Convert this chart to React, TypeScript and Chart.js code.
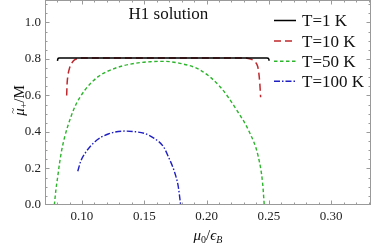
import React, { useEffect, useRef } from "react";
import { Chart, registerables } from "chart.js";

Chart.register(...registerables);

// ---- data ----
const xMajorTicks = [0.1, 0.15, 0.2, 0.25, 0.3];
const yMajorTicks = [0.0, 0.2, 0.4, 0.6, 0.8, 1.0];
const xRange = [0.0703, 0.332];
const yRange = [0, 1.123];

const seriesLabels = ["T=1 K", "T=10 K", "T=50 K", "T=100 K"];
const seriesColors = ["#000000", "#c0282d", "#2cb52c", "#1f1fc4"];
const seriesDash = [[], [7, 4], [3.5, 2.5], [6, 2, 1.5, 2]];

const t1X = [0.0803, 0.0806, 0.081, 0.0818, 0.1, 0.13, 0.16, 0.19, 0.22, 0.2485, 0.2494, 0.2499, 0.2503];
const t1Y = [0.79, 0.8, 0.804, 0.805, 0.805, 0.805, 0.805, 0.805, 0.805, 0.805, 0.804, 0.8, 0.79];

const t10X = [0.0877, 0.088, 0.0885, 0.09, 0.0917, 0.094, 0.097, 0.1, 0.15, 0.2, 0.23, 0.2335, 0.237, 0.2389, 0.241, 0.242, 0.2428, 0.2434];
const t10Y = [0.6, 0.66, 0.7, 0.75, 0.776, 0.795, 0.803, 0.805, 0.805, 0.805, 0.805, 0.803, 0.795, 0.785, 0.76, 0.72, 0.66, 0.59];

const t50X = [0.0778, 0.079, 0.0805, 0.082, 0.0837, 0.086, 0.0885, 0.0944, 0.1024, 0.113, 0.1265, 0.1425, 0.155, 0.165, 0.1787, 0.1947, 0.2108, 0.2242, 0.2348, 0.2415, 0.245, 0.2463];
const t50Y = [0.0, 0.08, 0.155, 0.23, 0.3, 0.37, 0.43, 0.54, 0.63, 0.703, 0.749, 0.776, 0.785, 0.787, 0.776, 0.74, 0.648, 0.52, 0.393, 0.265, 0.119, 0.0];

const t100X = [0.0966, 0.099, 0.1024, 0.1104, 0.1211, 0.1345, 0.142, 0.1506, 0.158, 0.1653, 0.1693, 0.1746, 0.1773, 0.1792];
const t100Y = [0.185, 0.24, 0.283, 0.347, 0.389, 0.405, 0.402, 0.391, 0.365, 0.32, 0.265, 0.174, 0.1, 0.0];

const seriesX = [t1X, t10X, t50X, t100X];
const seriesY = [t1Y, t10Y, t50Y, t100Y];

const FONT = "'Liberation Serif', 'Times New Roman', serif";

type Seg = { t: string; f: string; dy?: number };

function drawSegs(ctx: CanvasRenderingContext2D, segs: Seg[], x: number, y: number, center: boolean) {
  let w = 0;
  for (const s of segs) {
    ctx.font = s.f;
    w += ctx.measureText(s.t).width;
  }
  let cx = center ? x - w / 2 : x;
  const positions: number[] = [];
  for (const s of segs) {
    ctx.font = s.f;
    positions.push(cx);
    ctx.fillText(s.t, cx, y + (s.dy || 0));
    cx += ctx.measureText(s.t).width;
  }
  return positions;
}

const framePlugin = {
  id: "mmaFrame",
  afterDatasetsDraw(chart: any) {
    const { ctx, chartArea } = chart;
    const xs = chart.scales.x;
    const ys = chart.scales.y;
    const { left, right, top, bottom } = chartArea;
    ctx.save();
    ctx.strokeStyle = "#9a9a9a";
    ctx.lineWidth = 1;
    ctx.strokeRect(left + 0.5, top + 0.5, right - left - 1, bottom - top - 1);
    ctx.beginPath();
    for (let i = 7; i <= 33; i++) {
      const v = i / 100;
      const isMajor = xMajorTicks.some((m) => Math.abs(m - v) < 1e-6);
      const len = isMajor ? 4.5 : 2.5;
      const px = Math.round(xs.getPixelForValue(v)) + 0.5;
      if (px < left || px > right) continue;
      ctx.moveTo(px, bottom);
      ctx.lineTo(px, bottom - len);
      ctx.moveTo(px, top);
      ctx.lineTo(px, top + len);
    }
    for (let i = 0; i <= 22; i++) {
      const v = i * 0.05;
      const isMajor = yMajorTicks.some((m) => Math.abs(m - v) < 1e-6);
      const len = isMajor ? 4.5 : 2.5;
      const py = Math.round(ys.getPixelForValue(v)) + 0.5;
      if (py < top || py > bottom) continue;
      ctx.moveTo(left, py);
      ctx.lineTo(left + len, py);
      ctx.moveTo(right, py);
      ctx.lineTo(right - len, py);
    }
    ctx.stroke();
    ctx.restore();
  },
  afterDraw(chart: any) {
    const { ctx, chartArea } = chart;
    ctx.save();
    ctx.fillStyle = "#111";
    ctx.textBaseline = "alphabetic";
    ctx.textAlign = "left";
    ctx.font = `17px ${FONT}`;
    ctx.fillText("H1 solution", 128.5, 18.5);
    const rowY = [20.5, 41, 61.3, 81.3];
    seriesLabels.forEach((lab, i) => {
      ctx.save();
      ctx.strokeStyle = seriesColors[i];
      ctx.lineWidth = 1.5;
      ctx.setLineDash(seriesDash[i]);
      ctx.beginPath();
      ctx.moveTo(274, rowY[i]);
      ctx.lineTo(296, rowY[i]);
      ctx.stroke();
      ctx.restore();
      ctx.font = `17px ${FONT}`;
      ctx.fillStyle = "#111";
      ctx.fillText(lab, 302, rowY[i] + 5.8);
    });
    const cxT = (chartArea.left + chartArea.right) / 2;
    drawSegs(
      ctx,
      [
        { t: "μ", f: `italic 15px ${FONT}` },
        { t: "0", f: `10px ${FONT}`, dy: 3 },
        { t: "/", f: `15px ${FONT}` },
        { t: "ϵ", f: `italic 15px ${FONT}` },
        { t: "B", f: `italic 10px ${FONT}`, dy: 3 },
      ],
      cxT,
      240,
      true
    );
    ctx.save();
    ctx.translate(24, (chartArea.top + chartArea.bottom) / 2 - 2);
    ctx.rotate(-Math.PI / 2);
    const pos = drawSegs(
      ctx,
      [
        { t: "μ", f: `italic 15px ${FONT}` },
        { t: "+", f: `10px ${FONT}`, dy: 3 },
        { t: "/", f: `15px ${FONT}` },
        { t: "M", f: `15px ${FONT}` },
      ],
      0,
      0,
      true
    );
    ctx.font = `11px ${FONT}`;
    ctx.fillText("~", pos[0] + 2, -8);
    ctx.restore();
    ctx.restore();
  },
};

export default function App() {
  const ref = useRef<HTMLCanvasElement | null>(null);
  useEffect(() => {
    if (!ref.current) return;
    const datasets = seriesLabels.map((lab, i) => ({
      label: lab,
      data: seriesX[i].map((x, j) => ({ x, y: seriesY[i][j] })),
      borderColor: seriesColors[i],
      backgroundColor: seriesColors[i],
      borderWidth: i < 2 ? 1.5 : 1.4,
      borderDash: seriesDash[i],
      showLine: true,
      pointRadius: 0,
      fill: false,
      cubicInterpolationMode: "monotone" as const,
    }));
    const chart = new Chart(ref.current, {
      type: "scatter",
      data: { datasets },
      options: {
        animation: false,
        responsive: false,
        devicePixelRatio: 1,
        layout: { padding: { left: 0, right: 3, top: 0, bottom: 0 } },
        plugins: { legend: { display: false }, tooltip: { enabled: false } },
        scales: {
          x: {
            type: "linear",
            min: xRange[0],
            max: xRange[1],
            afterBuildTicks: (s: any) => {
              s.ticks = xMajorTicks.map((v) => ({ value: v }));
            },
            afterFit: (s: any) => {
              s.height = 41;
              s.paddingLeft = 0;
              s.paddingRight = 0;
            },
            grid: { display: false, drawTicks: false },
            border: { display: false },
            ticks: {
              padding: 4,
              maxRotation: 0,
              autoSkip: false,
              color: "#222",
              font: { family: FONT, size: 13 },
              callback: (v: any) => Number(v).toFixed(2),
            },
          },
          y: {
            type: "linear",
            min: yRange[0],
            max: yRange[1],
            afterBuildTicks: (s: any) => {
              s.ticks = yMajorTicks.map((v) => ({ value: v }));
            },
            afterFit: (s: any) => {
              s.width = 45;
              s.paddingTop = 0;
              s.paddingBottom = 0;
            },
            grid: { display: false, drawTicks: false },
            border: { display: false },
            ticks: {
              padding: 4,
              autoSkip: false,
              color: "#222",
              font: { family: FONT, size: 13 },
              callback: (v: any) => Number(v).toFixed(1),
            },
          },
        },
      },
      plugins: [framePlugin],
    });
    return () => chart.destroy();
  }, []);
  return (
    <div style={{ position: "fixed", left: 0, top: 0, width: 374, height: 246, background: "#fff" }}>
      <canvas ref={ref} width={374} height={246} style={{ display: "block" }} />
    </div>
  );
}
